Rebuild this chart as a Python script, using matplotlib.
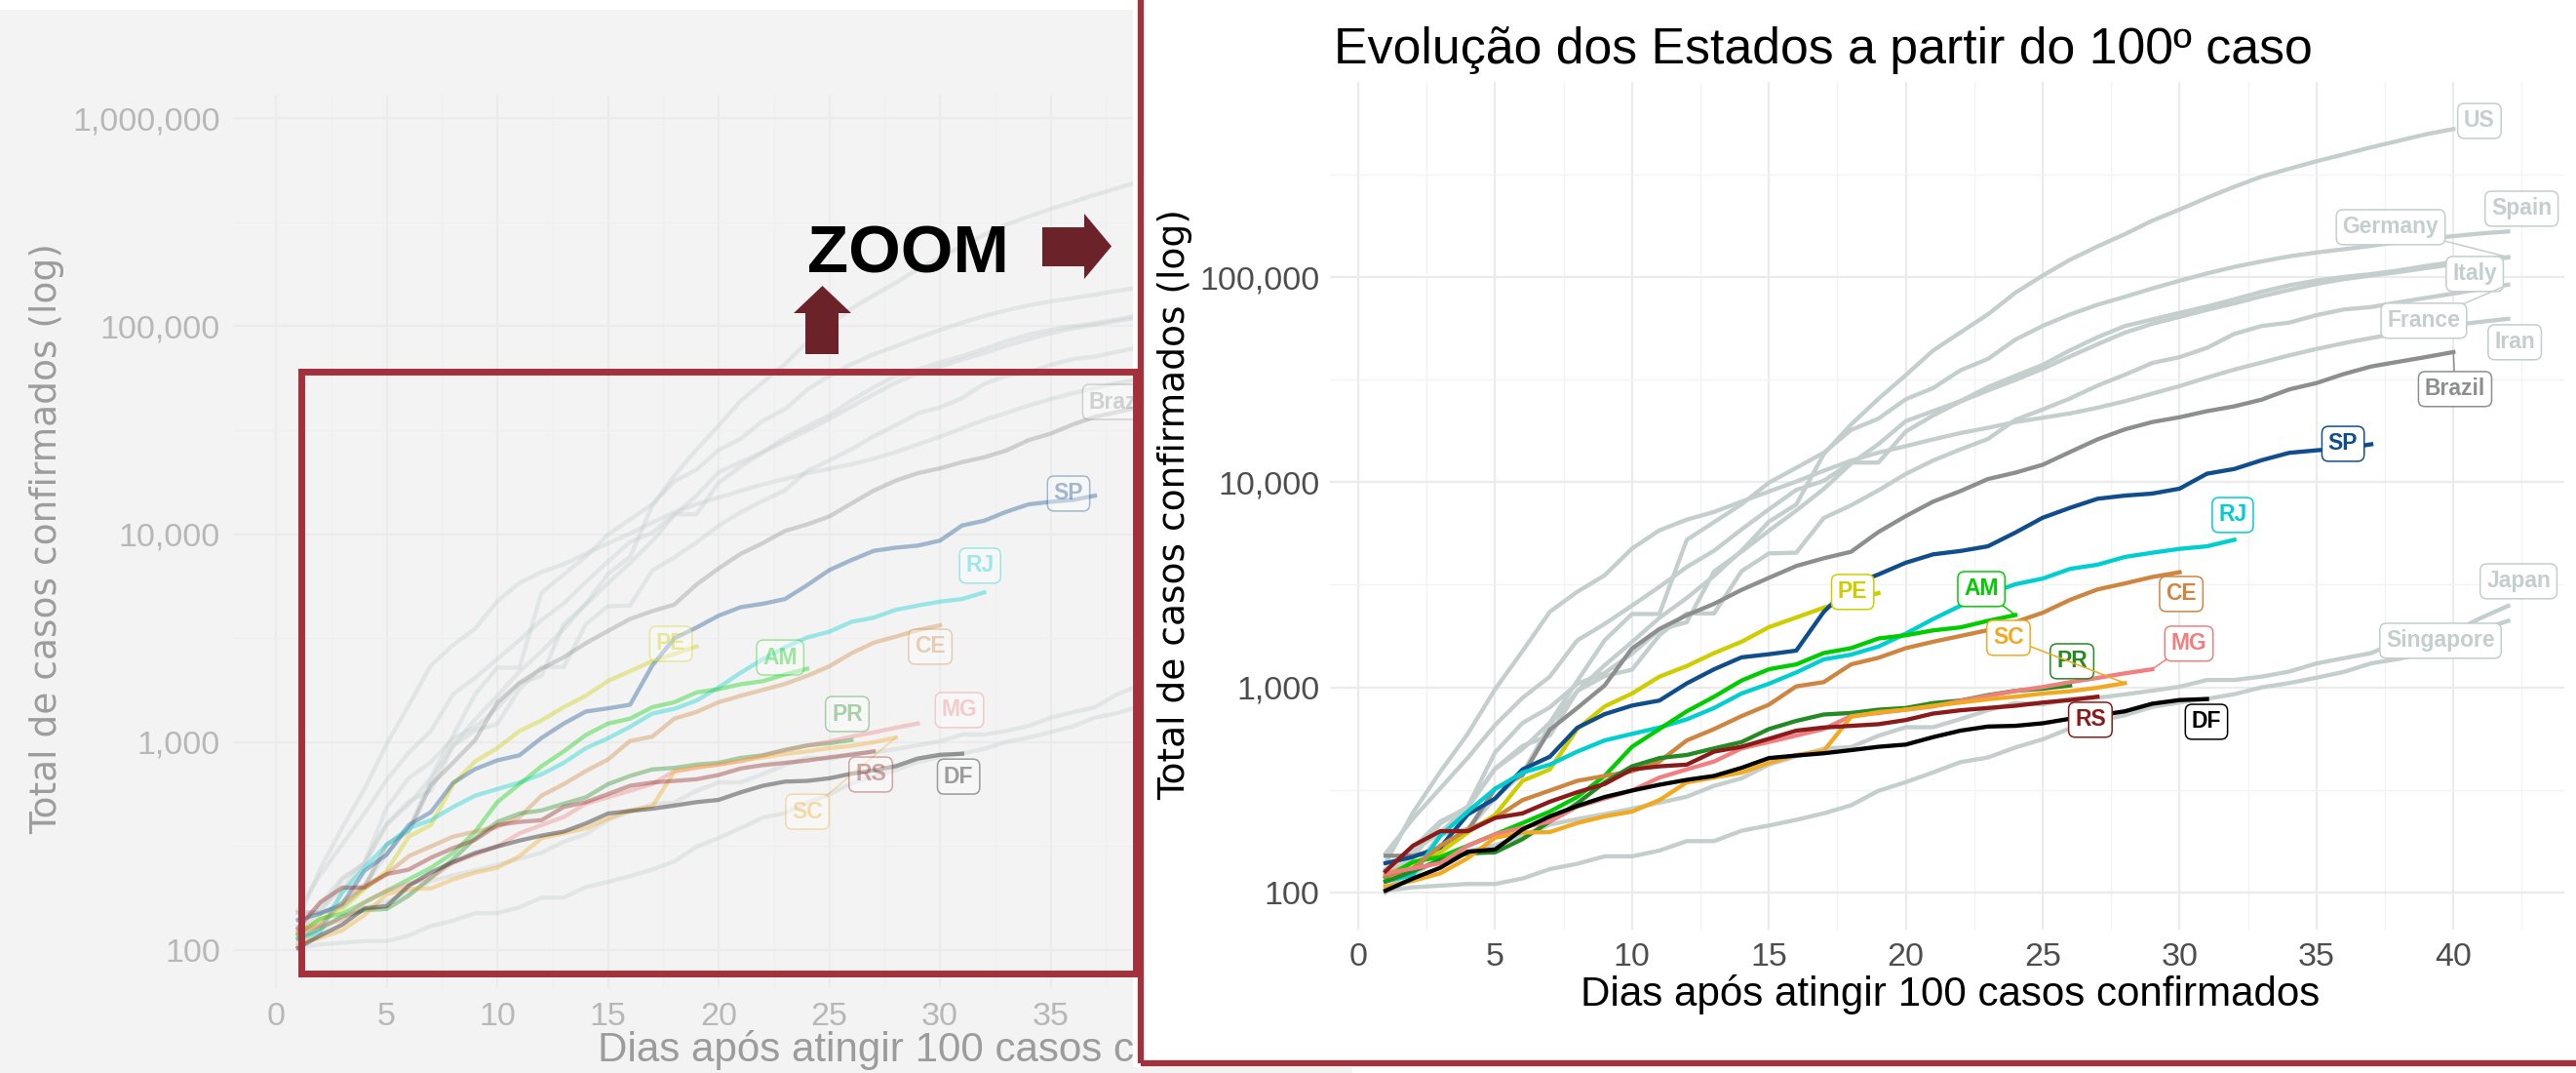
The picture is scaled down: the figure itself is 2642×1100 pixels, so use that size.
import matplotlib
matplotlib.use('Agg')
import matplotlib.pyplot as plt
from matplotlib.patches import Rectangle, Polygon
from matplotlib.ticker import FixedLocator, NullFormatter

plt.rcParams['font.family'] = ['Liberation Sans', 'DejaVu Sans']

W, H = 2642, 1100

# confirmed cases, one value per day since the 100th case (day 1, 2, ...)
us = [118, 149, 217, 262, 402, 518, 583, 959, 1281, 1663, 2179, 2726, 3499, 4632, 6421,
      7786, 13680, 19101, 25493, 33276, 43847, 53740, 65778, 83836, 101657, 121478, 140886,
      161807, 188172, 213372, 243453, 275586, 308850, 337072, 366667, 396223, 429052,
      461437, 496535, 526396]
spain = [120, 165, 222, 259, 400, 500, 673, 1073, 1695, 2277, 2277, 5232, 6391, 7798, 9942,
         11748, 13910, 17963, 20410, 25374, 28768, 35136, 39885, 49515, 57786, 65719, 73235,
         80110, 87956, 95923, 104118, 112065, 119199, 126168, 131646, 136675, 141942, 148220,
         153222, 158273, 163027, 166831]
germany = [130, 159, 196, 262, 482, 670, 799, 1040, 1176, 1457, 1908, 2078, 3675, 4585, 5795,
           7272, 9257, 12327, 15320, 19848, 22213, 24873, 29056, 32986, 37323, 43938, 50871,
           57695, 62095, 66885, 71808, 77872, 84794, 91159, 96092, 100123, 103374, 107663,
           113296, 118181, 122171, 124908]
italy = [155, 229, 322, 453, 655, 888, 1128, 1694, 2036, 2502, 3089, 3858, 4636, 5883, 7375,
         9172, 10149, 12462, 12462, 17660, 21157, 24747, 27980, 31506, 35713, 41035, 47021,
         53578, 59138, 63927, 69176, 74386, 80589, 86498, 92472, 97689, 101739, 105792,
         110574, 115242, 119827, 124632]
france = [100, 130, 191, 204, 288, 380, 656, 959, 1136, 1219, 1794, 2293, 2293, 3681, 4496,
          4532, 6683, 7715, 9124, 10970, 12758, 14463, 16243, 20123, 22622, 25600, 29551,
          33402, 38105, 40708, 45170, 52827, 57749, 59929, 65202, 69500, 71412, 75343, 79163,
          83057, 87366, 91738]
iran = [139, 245, 388, 593, 978, 1501, 2336, 2922, 3513, 4747, 5823, 6566, 7161, 8042, 9000,
        10075, 11364, 12729, 13938, 14991, 16169, 17361, 18407, 19644, 20610, 21638, 23049,
        24811, 27017, 29406, 32332, 35408, 38309, 41495, 44605, 47593, 50468, 53183, 55743,
        58226, 60500, 62589]
japan = [105, 122, 147, 159, 170, 189, 214, 228, 241, 256, 274, 293, 331, 360, 420, 461, 502,
         511, 581, 639, 639, 701, 773, 839, 825, 878, 889, 924, 963, 1007, 1086, 1086, 1128,
         1193, 1307, 1387, 1468, 1693, 1866, 1866, 2178, 2495]
singapore = [102, 106, 108, 110, 110, 117, 130, 138, 150, 150, 160, 178, 178, 200, 212, 226,
             243, 266, 313, 345, 385, 432, 455, 509, 558, 631, 683, 732, 802, 844, 879, 926,
             1000, 1049, 1114, 1189, 1309, 1375, 1481, 1623, 1910, 2108]
brazil = [151, 151, 162, 200, 321, 372, 621, 793, 1021, 1546, 1924, 2247, 2554, 2985, 3417,
          3904, 4256, 4579, 5717, 6836, 8044, 9056, 10360, 11130, 12161, 14034, 16170, 18092,
          19638, 20727, 22192, 23430, 25262, 28320, 30425, 33682, 36658, 38654, 40743, 43079]

pe = [122, 139, 157, 196, 239, 350, 398, 626, 807, 933, 1127, 1270, 1469, 1668, 1964, 2190,
      2445, 2650, 2880]
sp = [139, 149, 166, 240, 287, 398, 459, 635, 740, 815, 862, 1045, 1225, 1400, 1450, 1510,
      2330, 3150, 3550, 4050, 4450, 4620, 4870, 5680, 6710, 7500, 8300, 8600, 8800, 9300,
      11000, 11600, 12800, 13900, 14300, 14600, 15300]
rj = [113, 122, 189, 248, 320, 384, 420, 486, 551, 593, 637, 698, 793, 933, 1041, 1182, 1368,
      1443, 1581, 1828, 2153, 2500, 2850, 3180, 3390, 3780, 3960, 4320, 4530, 4730, 4870, 5240]
am = [118, 141, 149, 169, 192, 218, 248, 292, 370, 513, 626, 764, 900, 1079, 1225, 1294, 1469,
      1552, 1730, 1794, 1895, 1960, 2110, 2250]
ce = [120, 131, 169, 203, 231, 282, 314, 350, 370, 390, 435, 551, 626, 724, 823, 1011, 1060,
      1294, 1393, 1552, 1668, 1780, 1900, 2080, 2310, 2670, 3000, 3210, 3450, 3640]
pr = [113, 127, 144, 155, 157, 182, 222, 272, 344, 412, 452, 468, 504, 541, 626, 686, 737, 750,
      778, 793, 838, 862, 916, 961, 985, 1021]
mg = [124, 131, 139, 169, 192, 207, 222, 262, 287, 314, 363, 398, 435, 504, 541, 582, 626, 724,
      750, 778, 807, 860, 910, 960, 1003, 1060, 1111, 1170, 1225]
sc = [107, 114, 124, 147, 185, 196, 197, 218, 235, 248, 282, 344, 363, 384, 428, 468, 489, 718,
      757, 778, 813, 843, 875, 900, 933, 957, 996, 1048]
rs = [127, 169, 199, 199, 231, 243, 277, 308, 338, 398, 412, 420, 486, 513, 561, 615, 637, 649,
      661, 693, 745, 773, 793, 813, 843, 867, 900]
df = [102, 117, 132, 158, 162, 203, 235, 264, 292, 314, 335, 354, 370, 405, 452, 465, 477, 494,
      513, 526, 572, 615, 644, 649, 668, 703, 729, 764, 832, 867, 877]

countries = ['US', 'Spain', 'Germany', 'Italy', 'France', 'Iran', 'Japan', 'Singapore']
country_cases = [us, spain, germany, italy, france, iran, japan, singapore]
states = ['PE', 'SP', 'RJ', 'AM', 'CE', 'PR', 'MG', 'SC', 'RS', 'DF']
state_cases = [pe, sp, rj, am, ce, pr, mg, sc, rs, df]

country_color = '#C4CECD'
brazil_color = '#8C8F8E'
state_colors = {'PE': '#CDCD00', 'SP': '#104E8B', 'RJ': '#00CED1', 'AM': '#00CD00',
                'CE': '#CD853F', 'PR': '#228B22', 'MG': '#F08080', 'SC': '#F2A922',
                'RS': '#8B1A1A', 'DF': '#000000'}

# label centres (day, log10 of cases) in each panel
right_labels = {'US': (40.95, 5.761), 'Spain': (42.49, 5.333), 'Germany': (37.71, 5.243),
                'Italy': (40.78, 5.015), 'France': (38.92, 4.787), 'Iran': (42.24, 4.682),
                'Japan': (42.38, 3.517), 'Singapore': (39.53, 3.227), 'Brazil': (40.06, 4.454),
                'SP': (35.97, 4.187), 'RJ': (31.94, 3.840), 'AM': (22.76, 3.479),
                'CE': (30.06, 3.455), 'SC': (23.75, 3.241), 'PR': (26.07, 3.127),
                'MG': (30.34, 3.213), 'RS': (26.74, 2.842), 'DF': (30.98, 2.832),
                'PE': (18.06, 3.465)}
left_labels = {'Brazil': (38.1, 4.636), 'SP': (35.81, 4.195), 'RJ': (31.81, 3.848),
               'PE': (17.84, 3.472), 'AM': (22.78, 3.406), 'CE': (29.56, 3.458),
               'PR': (25.81, 3.134), 'MG': (30.88, 3.153), 'RS': (26.87, 2.843),
               'DF': (30.84, 2.833), 'SC': (24.01, 2.664)}
right_leaders = {'Germany', 'France', 'AM', 'SC', 'MG', 'Brazil'}
left_leaders = {'SC'}


def px_box(x0, y0, x1, y1):
    return [x0 / W, 1 - y1 / H, (x1 - x0) / W, (y1 - y0) / H]


def add_label(ax, name, vals, color, pos, leader, alpha):
    lx, ly = pos
    arrow = None
    if leader:
        arrow = dict(arrowstyle='-', color=color, lw=1.1, alpha=alpha, shrinkA=0, shrinkB=0)
    ax.annotate(name, xy=(len(vals), vals[-1]), xytext=(lx, 10 ** ly), textcoords='data',
                ha='center', va='center', fontsize=16.5, fontweight='bold', color=color,
                alpha=alpha, annotation_clip=False, zorder=6, arrowprops=arrow,
                bbox=dict(boxstyle='round,pad=0.28,rounding_size=0.3', fc='white', ec=color,
                          lw=1.1, alpha=alpha))


def draw_panel(ax, labels, leaders, alpha, xlim, ylog, yticks, xticks, bg, grid_major,
               grid_minor, tick_color, ypad, xpad):
    ax.set_facecolor(bg)
    for name, vals in zip(countries, country_cases):
        ax.plot(range(1, len(vals) + 1), vals, color=country_color, lw=3.1, alpha=alpha,
                solid_joinstyle='round', zorder=2)
    ax.plot(range(1, len(brazil) + 1), brazil, color=brazil_color, lw=3.1, alpha=alpha,
            solid_joinstyle='round', zorder=3)
    for name, vals in zip(states, state_cases):
        ax.plot(range(1, len(vals) + 1), vals, color=state_colors[name], lw=3.1, alpha=alpha,
                solid_joinstyle='round', zorder=4)

    for name, vals in zip(countries, country_cases):
        if name in labels:
            add_label(ax, name, vals, country_color, labels[name], name in leaders, alpha)
    if 'Brazil' in labels:
        add_label(ax, 'Brazil', brazil, brazil_color, labels['Brazil'], 'Brazil' in leaders, alpha)
    for name, vals in zip(states, state_cases):
        if name in labels:
            add_label(ax, name, vals, state_colors[name], labels[name], name in leaders, alpha)

    ax.set_yscale('log')
    ax.set_xlim(*xlim)
    ax.set_ylim(10 ** ylog[0], 10 ** ylog[1])
    ax.yaxis.set_major_locator(FixedLocator(yticks))
    ax.set_yticklabels([f'{t:,}' for t in yticks])
    ax.yaxis.set_minor_locator(FixedLocator([t * 10 ** 0.5 for t in [10] + yticks]))
    ax.yaxis.set_minor_formatter(NullFormatter())
    ax.xaxis.set_major_locator(FixedLocator(xticks))
    ax.xaxis.set_minor_locator(FixedLocator([x + 2.5 for x in [-5] + xticks]))
    ax.grid(which='major', color=grid_major, lw=1.6)
    ax.grid(which='minor', color=grid_minor, lw=1.0)
    ax.set_axisbelow(True)
    for s in ax.spines.values():
        s.set_visible(False)
    ax.tick_params(axis='both', which='both', length=0, labelsize=24.5, labelcolor=tick_color)
    ax.tick_params(axis='y', pad=ypad)
    ax.tick_params(axis='x', pad=xpad)


fig = plt.figure(figsize=(W / 100, H / 100), dpi=100)

# left: faded overview panel
fig.add_artist(Rectangle((0, 0), 1387 / W, 1 - 10 / H, transform=fig.transFigure,
                         fc='#F3F3F3', ec='none', zorder=-1))
axl = fig.add_axes(px_box(239, 98, 1745, 1013), zorder=0)
draw_panel(axl, left_labels, left_leaders, 0.37, (-1.94, 64.4), (1.815, 6.110),
           [100, 1000, 10000, 100000, 1000000], list(range(0, 40, 5)), '#F3F3F3',
           '#EBEBEB', '#EFEFEF', '#B7B7B7', 9.4, 10)
fig.text(613 / W, 1 - 1088 / H, 'Dias após atingir 100 casos confirmados', fontsize=30.3,
         ha='left', va='baseline', color='#9C9C9C', zorder=0.5)
fig.text(48 / W, 1 - 552 / H, 'Total de casos confirmados (log)', family='DejaVu Sans',
         fontsize=27, rotation=90, ha='center', va='center', color='#9C9C9C', zorder=0.5)

# right: zoomed panel
fig.add_artist(Rectangle((1162 / W, 1 - 1094 / H), 1.1, 1.1, transform=fig.transFigure,
                         fc='white', ec='none', zorder=1))
axr = fig.add_axes(px_box(1363.5, 84, 2630, 953), zorder=2)
draw_panel(axr, right_labels, right_leaders, 1.0, (-1.05, 44.05), (1.819, 5.951),
           [100, 1000, 10000, 100000], list(range(0, 45, 5)), 'white', '#EBEBEB', '#F3F3F3',
           '#4D4D4D', 7.2, 9.4)
fig.text(1368 / W, 1 - 65 / H, 'Evolução dos Estados a partir do 100º caso', fontsize=37.4,
         ha='left', va='baseline', color='black', zorder=5)
fig.text(2000 / W, 1 - 1031 / H, 'Dias após atingir 100 casos confirmados', fontsize=30.3,
         ha='center', va='baseline', color='black', zorder=5)
fig.text(1205 / W, 1 - 517 / H, 'Total de casos confirmados (log)', family='DejaVu Sans',
         fontsize=27, rotation=90, ha='center', va='center', color='black', zorder=5)

# zoom frames, arrows and caption
red = '#A3303B'
dark_red = '#6B2228'
fig.add_artist(Rectangle((309 / W, 1 - 998 / H), (1165 - 309) / W, (998 - 381) / H,
                         transform=fig.transFigure, fill=False, ec=red, lw=5, zorder=3))
fig.add_artist(Rectangle((1170 / W, 1 - 1090 / H), 1.1, 1.1, transform=fig.transFigure,
                         fill=False, ec=red, lw=4.5, zorder=3))
right_arrow = [(1069, 233), (1112, 233), (1112, 219), (1140, 252.5), (1112, 286), (1112, 273),
               (1069, 273)]
up_arrow = [(826, 363), (826, 321), (814, 321), (843.5, 293), (873, 321), (860, 321), (860, 363)]
for pts in (right_arrow, up_arrow):
    fig.add_artist(Polygon([(x / W, 1 - y / H) for x, y in pts], closed=True,
                           transform=fig.transFigure, fc=dark_red, ec='none', zorder=4))
fig.text(828 / W, 1 - 279 / H, 'ZOOM', fontsize=49.7, fontweight='bold', ha='left',
         va='baseline', color='black', zorder=4)

fig.savefig('out.png', dpi=100)
